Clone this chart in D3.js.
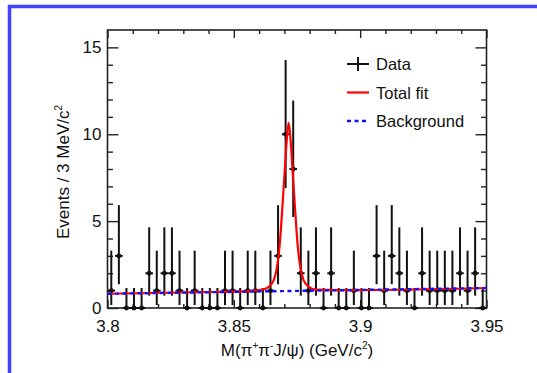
<!DOCTYPE html>
<html>
<head>
<meta charset="utf-8">
<script src="https://cdn.jsdelivr.net/npm/d3@7"></script>
<style>
  body { margin: 0; background: #fff; }
  text { font-family: "Liberation Sans", Arial, sans-serif; fill: #111; }
  .axis path.domain { display: none; }
  .axis line { stroke: #222; stroke-width: 1.4; }
</style>
</head>
<body>
<div id="chart"></div>
<script>
// bin centres (3 MeV bins) and the event counts
const binCenters = [3.8015, 3.8045, 3.8075, 3.8105, 3.8135, 3.8165, 3.8195, 3.8225, 3.8255, 3.8285,
                    3.8315, 3.8345, 3.8375, 3.8405, 3.8435, 3.8465, 3.8495, 3.8525, 3.8555, 3.8585,
                    3.8615, 3.8645, 3.8675, 3.8705, 3.8735, 3.8765, 3.8795, 3.8825, 3.8855, 3.8885,
                    3.8915, 3.8945, 3.8975, 3.9005, 3.9035, 3.9065, 3.9095, 3.9125, 3.9155, 3.9185,
                    3.9215, 3.9245, 3.9275, 3.9305, 3.9335, 3.9365, 3.9395, 3.9425, 3.9455, 3.9485]
const counts = [1, 3, 0, 0, 0, 2, 1, 2, 2, 1,
                0, 1, 0, 0, 0, 1, 1, 0, 1, 1,
                0, 1, 3, 10, 8, 2, 1, 2, 0, 2,
                0, 0, 1, 0, 0, 3, 1, 3, 2, 1,
                0, 2, 1, 1, 1, 1, 2, 1, 2, 0]
// error bar ends per count, as drawn
const errLow  = {0: 0, 1: 0.17, 2: 0.71, 3: 1.37, 8: 5.24, 10: 6.9}
const errHigh = {0: 1.15, 1: 3.3, 2: 4.64, 3: 5.92, 8: 11.94, 10: 14.27}

// fit curves
const fitX = [3.800, 3.840, 3.856, 3.8607, 3.8638, 3.8658, 3.8673, 3.868, 3.8686, 3.8693, 3.8702, 3.8709,
              3.8717, 3.8725, 3.8732, 3.8741, 3.8748, 3.8754, 3.8761, 3.8776, 3.8796, 3.8827, 3.900, 3.950]
const fitY = [0.82, 0.92, 0.97, 1.04, 1.22, 1.6, 2.56, 3.4, 4.48, 6.0, 8.0, 9.6,
              10.65, 9.6, 8.0, 6.0, 4.48, 3.4, 2.56, 1.6, 1.22, 1.06, 1.03, 1.15]
const bkgX = [3.80, 3.95]
const bkgY = [0.82, 1.15]

const xTicks = [3.8, 3.85, 3.9, 3.95]
const xMinor = [3.81, 3.82, 3.83, 3.84, 3.86, 3.87, 3.88, 3.89, 3.91, 3.92, 3.93, 3.94]
const yTicks = [0, 5, 10, 15]
const yMinor = [1, 2, 3, 4, 6, 7, 8, 9, 11, 12, 13, 14]

const legendItems = ["Data", "Total fit", "Background"]

const width = 537, height = 373
const frame = { left: 107.5, right: 486.5, top: 30, bottom: 308 }

const svg = d3.select("#chart").append("svg")
    .attr("width", width)
    .attr("height", height)

// blue border round the figure
svg.append("rect")
    .attr("x", 9.5).attr("y", 6.5)
    .attr("width", 600).attr("height", 500)
    .attr("fill", "none")
    .attr("stroke", "#4242ff")
    .attr("stroke-width", 3.5)

const x = d3.scaleLinear().domain([3.8, 3.95]).range([frame.left, frame.right])
const y = d3.scaleLinear().domain([0, 16]).range([frame.bottom, frame.top])

const fmtX = d => String(+d.toFixed(2))

// axes, ticks pointing inward
svg.append("g").attr("class", "axis")
    .attr("transform", `translate(0,${frame.bottom})`)
    .call(d3.axisBottom(x).tickValues(xTicks).tickSize(-8).tickSizeOuter(0).tickPadding(12).tickFormat(fmtX))
    .call(g => g.selectAll("text").attr("font-size", 17).attr("font-family", "Liberation Sans, Arial, sans-serif"))
svg.append("g").attr("class", "axis")
    .attr("transform", `translate(0,${frame.bottom})`)
    .call(d3.axisBottom(x).tickValues(xMinor).tickSize(-4).tickSizeOuter(0).tickFormat(""))
svg.append("g").attr("class", "axis")
    .attr("transform", `translate(0,${frame.top})`)
    .call(d3.axisTop(x).tickValues(xTicks).tickSize(-8).tickSizeOuter(0).tickFormat(""))
svg.append("g").attr("class", "axis")
    .attr("transform", `translate(0,${frame.top})`)
    .call(d3.axisTop(x).tickValues(xMinor).tickSize(-4).tickSizeOuter(0).tickFormat(""))

svg.append("g").attr("class", "axis")
    .attr("transform", `translate(${frame.left},0)`)
    .call(d3.axisLeft(y).tickValues(yTicks).tickSize(-11).tickSizeOuter(0).tickPadding(6))
    .call(g => g.selectAll("text").attr("font-size", 17).attr("font-family", "Liberation Sans, Arial, sans-serif"))
svg.append("g").attr("class", "axis")
    .attr("transform", `translate(${frame.left},0)`)
    .call(d3.axisLeft(y).tickValues(yMinor).tickSize(-5.5).tickSizeOuter(0).tickFormat(""))
svg.append("g").attr("class", "axis")
    .attr("transform", `translate(${frame.right},0)`)
    .call(d3.axisRight(y).tickValues(yTicks).tickSize(-11).tickSizeOuter(0).tickFormat(""))
svg.append("g").attr("class", "axis")
    .attr("transform", `translate(${frame.right},0)`)
    .call(d3.axisRight(y).tickValues(yMinor).tickSize(-5.5).tickSizeOuter(0).tickFormat(""))

svg.selectAll(".axis text").attr("fill", "#111")

// frame
svg.append("rect")
    .attr("x", frame.left).attr("y", frame.top)
    .attr("width", frame.right - frame.left).attr("height", frame.bottom - frame.top)
    .attr("fill", "none").attr("stroke", "#222").attr("stroke-width", 1.6)

// data points with error bars
const pts = svg.append("g").selectAll("g.pt")
    .data(binCenters.map((c, i) => ({ x: c, n: counts[i] })))
    .join("g").attr("class", "pt")

pts.append("line")
    .attr("x1", d => x(d.x)).attr("x2", d => x(d.x))
    .attr("y1", d => y(errLow[d.n])).attr("y2", d => y(errHigh[d.n]))
    .attr("stroke", "#111").attr("stroke-width", 2)
pts.append("line")
    .attr("x1", d => x(d.x - 0.0015)).attr("x2", d => x(d.x + 0.0015))
    .attr("y1", d => y(d.n)).attr("y2", d => y(d.n))
    .attr("stroke", "#111").attr("stroke-width", 2)
pts.append("circle")
    .attr("cx", d => x(d.x)).attr("cy", d => y(d.n))
    .attr("r", 2.4).attr("fill", "#111")

// fit curves
const fitLine = d3.line().x(d => x(d[0])).y(d => y(d[1])).curve(d3.curveMonotoneX)
svg.append("path")
    .datum(fitX.map((v, i) => [v, fitY[i]]))
    .attr("d", fitLine)
    .attr("fill", "none").attr("stroke", "#f00").attr("stroke-width", 2.2)
svg.append("path")
    .datum(bkgX.map((v, i) => [v, bkgY[i]]))
    .attr("d", d3.line().x(d => x(d[0])).y(d => y(d[1])))
    .attr("fill", "none").attr("stroke", "#1010ff").attr("stroke-width", 2.4)
    .attr("stroke-dasharray", "4,3.5")

// legend
const leg = svg.append("g")
const legY = d3.scalePoint().domain(legendItems).range([64, 121])
legendItems.forEach(name => {
  const ly = legY(name)
  if (name === "Data") {
    leg.append("line").attr("x1", 347).attr("x2", 369).attr("y1", ly).attr("y2", ly)
        .attr("stroke", "#111").attr("stroke-width", 2)
    leg.append("line").attr("x1", 358).attr("x2", 358).attr("y1", ly - 7).attr("y2", ly + 7)
        .attr("stroke", "#111").attr("stroke-width", 2)
  } else if (name === "Total fit") {
    leg.append("line").attr("x1", 347).attr("x2", 369).attr("y1", ly).attr("y2", ly)
        .attr("stroke", "#f00").attr("stroke-width", 2.2)
  } else {
    leg.append("line").attr("x1", 347).attr("x2", 369).attr("y1", ly).attr("y2", ly)
        .attr("stroke", "#1010ff").attr("stroke-width", 2.4).attr("stroke-dasharray", "4,3.5")
  }
  leg.append("text").attr("x", 376).attr("y", ly + 6)
      .attr("font-size", 16.5).text(name)
})

// axis titles
const xt = svg.append("text")
    .attr("x", 297).attr("y", 356)
    .attr("text-anchor", "middle")
    .attr("font-size", 17)
xt.append("tspan").text("M(π")
xt.append("tspan").attr("font-size", 10).attr("dy", -7).text("+")
xt.append("tspan").attr("dy", 7).text("π")
xt.append("tspan").attr("font-size", 10).attr("dy", -7).text("-")
xt.append("tspan").attr("dy", 7).text("J/ψ) (GeV/c")
xt.append("tspan").attr("font-size", 10).attr("dy", -7).text("2")
xt.append("tspan").attr("dy", 7).text(")")

const yt = svg.append("text")
    .attr("transform", "translate(69,172) rotate(-90)")
    .attr("text-anchor", "middle")
    .attr("font-size", 17)
yt.append("tspan").text("Events / 3 MeV/c")
yt.append("tspan").attr("font-size", 10).attr("dy", -7).text("2")
</script>
</body>
</html>
